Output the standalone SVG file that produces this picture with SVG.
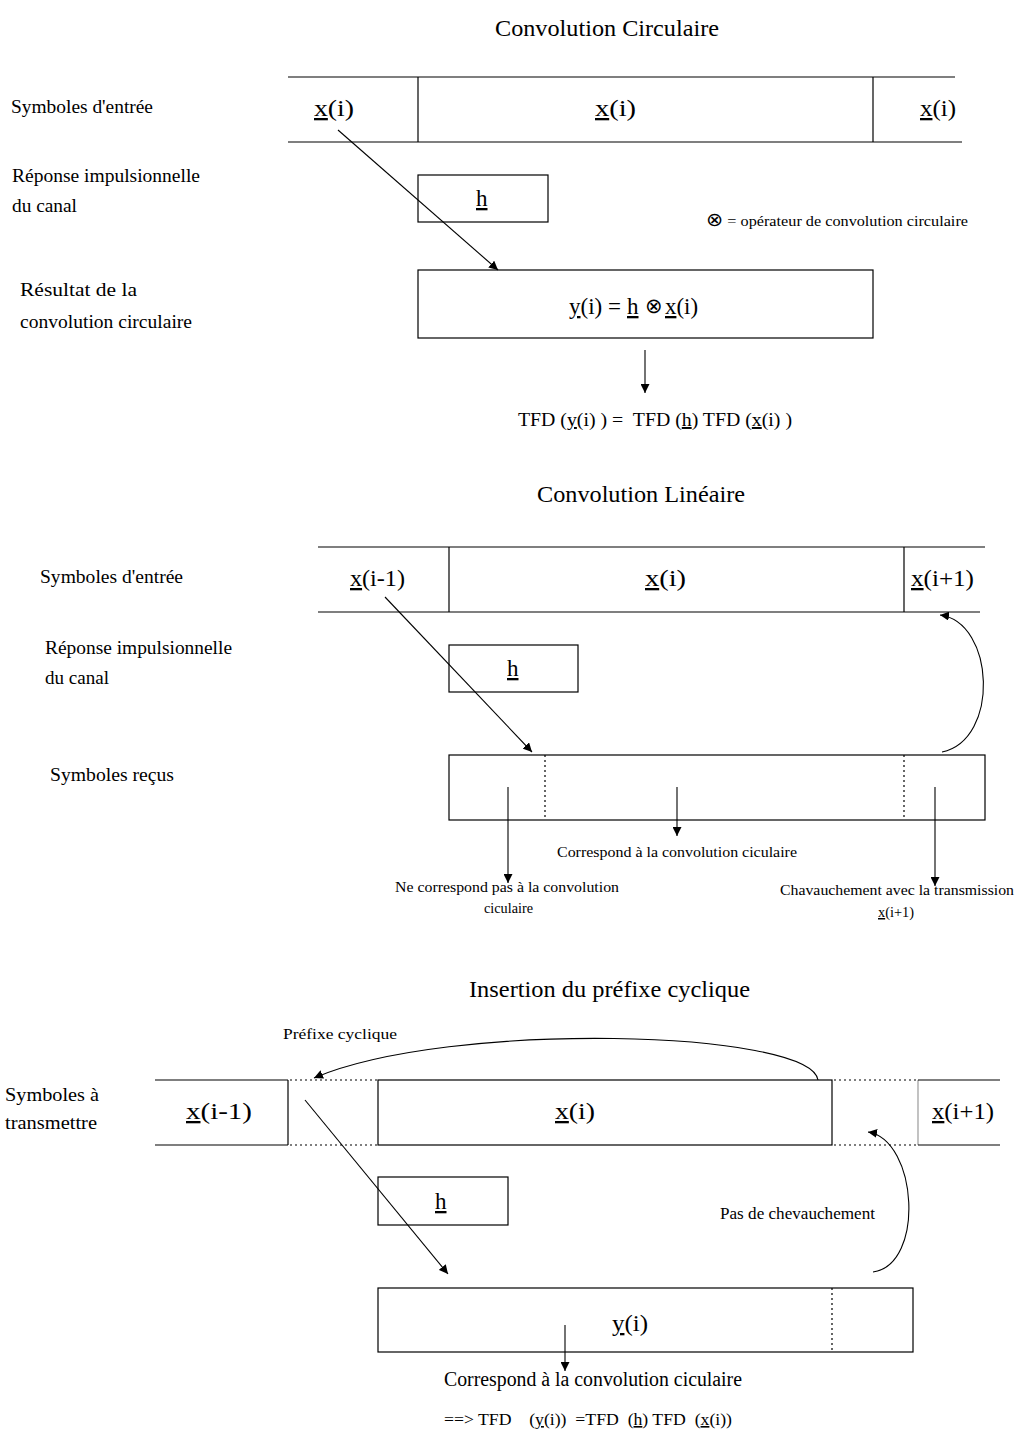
<svg xmlns="http://www.w3.org/2000/svg" width="1018" height="1432" viewBox="0 0 1018 1432">
<defs>
<marker id="ah" viewBox="0 0 10 10" refX="10" refY="5" markerWidth="9" markerHeight="9" markerUnits="userSpaceOnUse" orient="auto">
<path d="M0,0 L10,5 L0,10 z" fill="#000"/>
</marker>
</defs>
<style>
text{font-family:"Liberation Serif","Times New Roman",Times,serif;fill:#000}
.t{font-size:24px}
.lb{font-size:19.5px}
.v{font-size:23px}
.s{font-size:15px}
.u{text-decoration:underline}
.op{font-size:19px}
.ln{stroke:#000;stroke-width:1.2;fill:none}
.bx{stroke:#000;stroke-width:1.2;fill:#fff}
.dt{stroke:#000;stroke-width:1.2;stroke-dasharray:2 3;fill:none}
.ar{stroke:#000;stroke-width:1.1;fill:none;marker-end:url(#ah)}
</style>
<rect width="1018" height="1432" fill="#fff"/>

<!-- Section 1 -->
<g id="title1"><text class="t" x="495" y="36" textLength="224" lengthAdjust="spacingAndGlyphs">Convolution Circulaire</text></g>
<g id="lbl1a"><text class="lb" x="11" y="113" textLength="142" lengthAdjust="spacingAndGlyphs">Symboles d'entrée</text></g>
<g id="lbl1b"><text class="lb" x="12" y="182" textLength="188" lengthAdjust="spacingAndGlyphs">Réponse impulsionnelle</text><text class="lb" x="12" y="212" textLength="65" lengthAdjust="spacingAndGlyphs">du canal</text></g>
<g id="lbl1c"><text class="lb" x="20" y="296" textLength="117" lengthAdjust="spacingAndGlyphs">Résultat de la</text><text class="lb" x="20" y="328" textLength="172" lengthAdjust="spacingAndGlyphs">convolution circulaire</text></g>
<g id="sym1">
<line class="ln" x1="288" y1="77" x2="955" y2="77"/>
<line class="ln" x1="288" y1="142" x2="962" y2="142"/>
<line class="ln" x1="418" y1="77" x2="418" y2="142"/>
<line class="ln" x1="873" y1="77" x2="873" y2="142"/>
<text class="v" x="314" y="116" textLength="40" lengthAdjust="spacingAndGlyphs"><tspan class="u">x</tspan>(i)</text>
<text class="v" x="595" y="116" textLength="41" lengthAdjust="spacingAndGlyphs"><tspan class="u">x</tspan>(i)</text>
<text class="v" x="920" y="116" textLength="36" lengthAdjust="spacingAndGlyphs"><tspan class="u">x</tspan>(i)</text>
</g>
<g id="h1"><rect class="bx" x="418" y="175" width="130" height="47"/><text class="v" x="476" y="206"><tspan class="u">h</tspan></text></g>
<g id="legend1"><text class="s" x="706" y="226" textLength="262" lengthAdjust="spacingAndGlyphs"><tspan class="op">⊗</tspan> = opérateur de convolution circulaire</text></g>
<g id="res1"><rect class="bx" x="418" y="270" width="455" height="68"/>
<text class="v" x="569" y="314" textLength="52" lengthAdjust="spacingAndGlyphs"><tspan class="u">y</tspan>(i) =</text>
<text class="v" x="627" y="314"><tspan class="u">h</tspan></text>
<text x="645" y="313" style="font-size:21px">⊗</text>
<text class="v" x="665" y="314" textLength="33" lengthAdjust="spacingAndGlyphs"><tspan class="u">x</tspan>(i)</text></g>
<g id="tfd1"><text class="lb" x="518" y="426" xml:space="preserve" textLength="274" lengthAdjust="spacingAndGlyphs">TFD (<tspan class="u">y</tspan>(i) ) =  TFD (<tspan class="u">h</tspan>) TFD (<tspan class="u">x</tspan>(i) )</text></g>

<!-- Section 2 -->
<g id="title2"><text class="t" x="537" y="502" textLength="208" lengthAdjust="spacingAndGlyphs">Convolution Linéaire</text></g>
<g id="lbl2a"><text class="lb" x="40" y="583" textLength="143" lengthAdjust="spacingAndGlyphs">Symboles d'entrée</text></g>
<g id="lbl2b"><text class="lb" x="45" y="654" textLength="187" lengthAdjust="spacingAndGlyphs">Réponse impulsionnelle</text><text class="lb" x="45" y="684" textLength="64" lengthAdjust="spacingAndGlyphs">du canal</text></g>
<g id="lbl2c"><text class="lb" x="50" y="781" textLength="124" lengthAdjust="spacingAndGlyphs">Symboles reçus</text></g>
<g id="sym2">
<line class="ln" x1="318" y1="547" x2="985" y2="547"/>
<line class="ln" x1="318" y1="612" x2="980" y2="612"/>
<line class="ln" x1="449" y1="547" x2="449" y2="612"/>
<line class="ln" x1="904" y1="547" x2="904" y2="612"/>
<text class="v" x="350" y="586" textLength="55" lengthAdjust="spacingAndGlyphs"><tspan class="u">x</tspan>(i-1)</text>
<text class="v" x="645" y="586" textLength="41" lengthAdjust="spacingAndGlyphs"><tspan class="u">x</tspan>(i)</text>
<text class="v" x="911" y="586" textLength="63" lengthAdjust="spacingAndGlyphs"><tspan class="u">x</tspan>(i+1)</text>
</g>
<g id="h2"><rect class="bx" x="449" y="645" width="129" height="47"/><text class="v" x="507" y="676"><tspan class="u">h</tspan></text></g>
<g id="recv2"><rect class="bx" x="449" y="755" width="536" height="65"/>
<line class="dt" x1="545" y1="755" x2="545" y2="820"/>
<line class="dt" x1="904" y1="755" x2="904" y2="820"/></g>
<g id="lbl2d"><text class="s" x="557" y="857" textLength="240" lengthAdjust="spacingAndGlyphs">Correspond à la convolution ciculaire</text></g>
<g id="lbl2e"><text class="s" x="395" y="892" textLength="224" lengthAdjust="spacingAndGlyphs">Ne correspond pas à la convolution</text><text class="s" x="484" y="913" textLength="49" lengthAdjust="spacingAndGlyphs">ciculaire</text></g>
<g id="lbl2f"><text class="s" x="780" y="895" textLength="234" lengthAdjust="spacingAndGlyphs">Chavauchement avec la transmission</text><text class="s" x="878" y="917" textLength="36" lengthAdjust="spacingAndGlyphs"><tspan class="u">x</tspan>(i+1)</text></g>

<!-- Section 3 -->
<g id="title3"><text class="t" x="469" y="997" textLength="281" lengthAdjust="spacingAndGlyphs">Insertion du préfixe cyclique</text></g>
<g id="lbl3p"><text class="s" x="283" y="1039" textLength="114" lengthAdjust="spacingAndGlyphs">Préfixe cyclique</text></g>
<g id="lbl3a"><text class="lb" x="5" y="1101" textLength="94" lengthAdjust="spacingAndGlyphs">Symboles à</text><text class="lb" x="5" y="1129" textLength="92" lengthAdjust="spacingAndGlyphs">transmettre</text></g>
<g id="sym3">
<line class="ln" x1="155" y1="1080" x2="288" y2="1080"/>
<line class="ln" x1="155" y1="1145" x2="288" y2="1145"/>
<line class="ln" x1="288" y1="1080" x2="288" y2="1145"/>
<line class="dt" x1="290" y1="1080" x2="378" y2="1080"/>
<line class="dt" x1="290" y1="1145" x2="378" y2="1145"/>
<rect class="bx" x="378" y="1080" width="454" height="65"/>
<line class="dt" x1="834" y1="1080" x2="918" y2="1080"/>
<line class="dt" x1="834" y1="1145" x2="918" y2="1145"/>
<line class="ln" x1="918" y1="1080" x2="1000" y2="1080"/>
<line class="ln" x1="918" y1="1145" x2="1000" y2="1145"/>
<line class="ln" x1="918" y1="1080" x2="918" y2="1145" stroke-opacity="0.4"/>
<text class="v" x="186" y="1119" textLength="66" lengthAdjust="spacingAndGlyphs"><tspan class="u">x</tspan>(i-1)</text>
<text class="v" x="555" y="1119" textLength="40" lengthAdjust="spacingAndGlyphs"><tspan class="u">x</tspan>(i)</text>
<text class="v" x="932" y="1119" textLength="62" lengthAdjust="spacingAndGlyphs"><tspan class="u">x</tspan>(i+1)</text>
</g>
<g id="h3"><rect class="bx" x="378" y="1177" width="130" height="48"/><text class="v" x="435" y="1209"><tspan class="u">h</tspan></text></g>
<g id="lbl3b"><text class="s" x="720" y="1219" textLength="155" lengthAdjust="spacingAndGlyphs" style="font-size:17px">Pas de chevauchement</text></g>
<g id="out3"><rect class="bx" x="378" y="1288" width="535" height="64"/>
<line class="dt" x1="832" y1="1288" x2="832" y2="1352"/>
<text class="v" x="612" y="1331" textLength="36" lengthAdjust="spacingAndGlyphs"><tspan class="u">y</tspan>(i)</text></g>
<g id="lbl3c"><text class="lb" x="444" y="1386" textLength="298" lengthAdjust="spacingAndGlyphs" style="font-size:20px">Correspond à la convolution ciculaire</text></g>
<g id="lbl3d"><text class="s" x="444" y="1425" xml:space="preserve" textLength="288" lengthAdjust="spacingAndGlyphs" style="font-size:16px">==&gt; TFD    (<tspan class="u">y</tspan>(i))  =TFD  (<tspan class="u">h</tspan>) TFD  (<tspan class="u">x</tspan>(i))</text></g>

<!-- Connectors -->
<g id="connectors">
<line class="ar" x1="338" y1="130" x2="498" y2="270"/>
<line class="ar" x1="645" y1="350" x2="645" y2="393"/>
<line class="ar" x1="385" y1="597" x2="532" y2="752"/>
<path class="ar" d="M942,752 C1000,740 995,622 940,615"/>
<line class="ar" x1="508" y1="787" x2="508" y2="883"/>
<line class="ar" x1="677" y1="787" x2="677" y2="836"/>
<line class="ar" x1="935" y1="787" x2="935" y2="886"/>
<path class="ar" d="M818,1080 C810,1030 450,1020 314,1078"/>
<line class="ar" x1="305" y1="1100" x2="448" y2="1274"/>
<path class="ar" d="M873,1272 C925,1265 918,1140 868,1132"/>
<line class="ar" x1="565" y1="1325" x2="565" y2="1371"/>
</g>
</svg>
